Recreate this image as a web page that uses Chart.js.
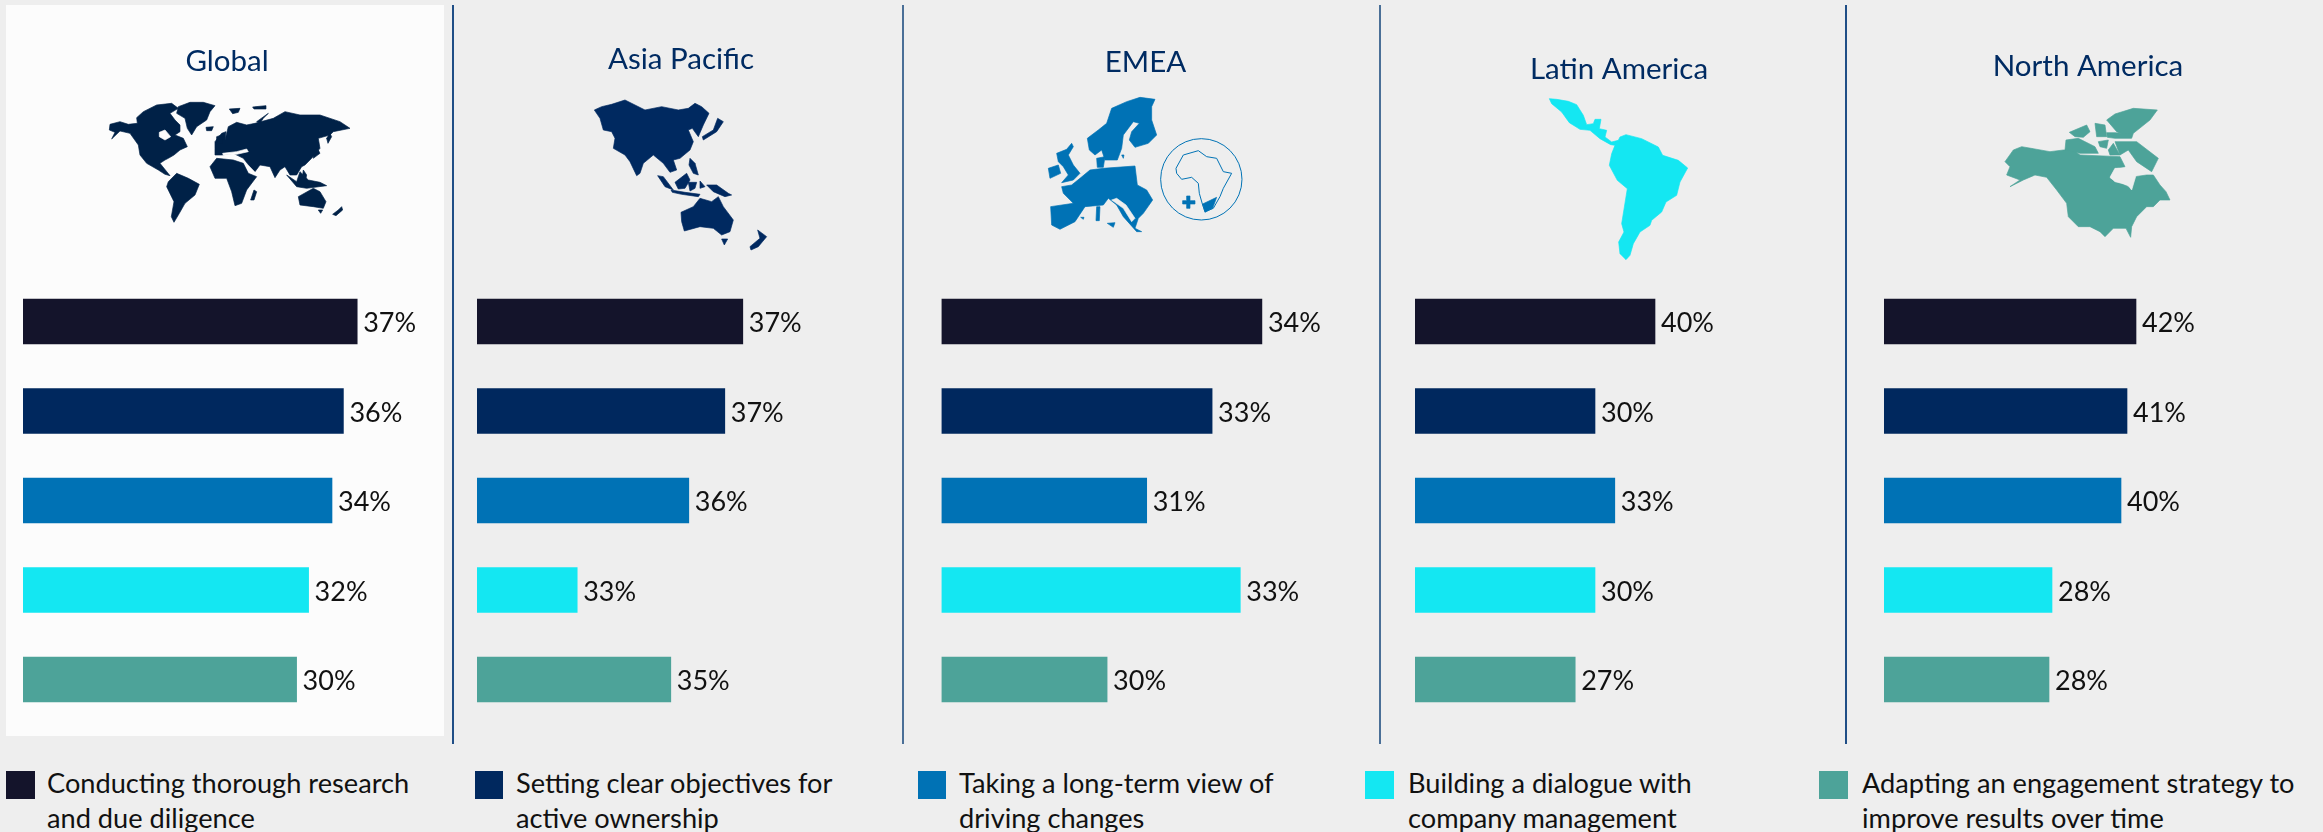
<!DOCTYPE html>
<html>
<head>
<meta charset="utf-8">
<script src="https://cdn.jsdelivr.net/npm/chart.js@4"></script>
<style>
html,body{margin:0;padding:0;background:#EEEEEE;width:2323px;height:832px;overflow:hidden;font-family:Lato,sans-serif}
#globalBg{position:absolute;left:6px;top:5px;width:438px;height:731px;background:#FCFCFC}
.divider{position:absolute;top:5px;height:739px;width:2px}
canvas{position:absolute;top:0}
svg{position:absolute;left:0;top:0}
.swatch{position:absolute;top:771px;height:28px}
.legendText{position:absolute;top:765px;font-size:27.2px;line-height:35px;color:#111;white-space:nowrap}
</style>
</head>
<body>
<div id="globalBg"></div>
<svg width="2323" height="832" viewBox="0 0 2323 832" id="maps">
  <!-- Global -->
  <g transform="translate(100,95) scale(0.3333)" fill="#002147" stroke="#002147" stroke-width="2" stroke-linejoin="round">
    <polygon points="30,88 60,80 85,88 112,85 110,68 130,50 170,30 215,25 235,40 210,55 225,75 240,90 240,110 225,120 250,130 262,155 240,165 222,180 205,190 195,195 180,205 210,242 195,238 175,225 140,205 120,180 115,150 90,115 60,108 35,132 45,112 28,105"/>
    <polygon points="235,35 270,22 310,22 345,32 330,50 320,75 290,95 275,120 262,100 255,70 230,55"/>
    <polygon points="388,42 420,40 415,52 398,56"/>
    <polygon points="458,36 498,32 498,42 462,42"/>
    <polygon points="470,80 505,55 490,70 480,85"/>
    <polygon points="318,97 340,95 335,107 320,107"/>
    <polygon points="205,260 230,235 265,250 298,268 285,300 255,325 238,355 222,382 214,365 222,320 200,275"/>
    <polygon points="330,215 350,190 400,195 430,205 445,235 470,245 440,285 425,325 405,332 395,290 380,250 345,250"/>
    <polygon points="452,315 462,285 470,290 462,315"/>
    <polygon points="345,140 365,115 378,110 375,135 385,95 410,82 440,90 465,85 520,70 555,50 600,60 660,60 720,80 750,100 700,110 690,120 655,130 660,160 635,190 615,210 605,215 590,240 570,240 555,215 540,225 525,248 510,215 480,210 465,230 445,210 430,190 400,175 365,180 345,180 345,160"/>
    <polygon points="350,125 365,120 368,145 350,148"/>
    <polygon points="680,130 690,115 695,125 684,145"/>
    <polygon points="640,180 655,165 660,175 640,190"/>
    <polygon points="610,225 620,240 618,250 608,240"/>
    <polygon points="560,240 590,275 620,280 680,272 660,262 625,255 600,230 590,260"/>
    <polygon points="595,305 640,280 660,290 678,320 670,340 640,335 600,330"/>
    <polygon points="655,345 668,345 662,355"/>
    <polygon points="725,335 728,345 708,362 698,358 715,345"/>
    <polygon points="178,112 195,105 212,125 195,135 178,125" fill="#FCFCFC" stroke="#FCFCFC"/>
    <polygon points="368,175 410,170 440,162 445,170 410,178 370,180" fill="#FCFCFC" stroke="#FCFCFC"/>
    <polyline points="430,195 465,232" fill="none" stroke="#FCFCFC"/>
  </g>
  <!-- Asia Pacific -->
  <g transform="translate(585,95) scale(0.3333)" fill="#002960" stroke="#002960" stroke-width="2" stroke-linejoin="round">
    <polygon points="28,45 50,35 80,28 120,15 150,30 180,45 230,35 280,45 310,40 330,25 350,35 372,55 355,90 340,125 322,100 310,105 325,140 315,165 285,190 265,195 275,225 255,232 235,205 205,180 175,205 165,235 155,242 135,200 120,180 85,160 90,130 80,110 55,105 45,70"/>
    <polygon points="398,70 415,80 395,110 355,135 352,125 385,105"/>
    <polygon points="315,190 330,205 340,240 325,235 312,210"/>
    <polygon points="218,242 235,245 265,285 240,275"/>
    <polygon points="258,285 300,292 345,298 340,305 290,298 262,292"/>
    <polygon points="270,262 305,235 315,255 300,280 280,282"/>
    <polygon points="310,262 335,262 330,280 315,288"/>
    <polygon points="345,258 360,275 345,280"/>
    <polygon points="365,270 395,270 430,295 440,300 420,305 385,290"/>
    <polygon points="288,352 325,335 345,310 380,320 400,305 415,335 445,375 435,410 410,420 385,400 345,395 298,408 290,380"/>
    <polygon points="410,432 428,432 418,450"/>
    <polygon points="518,405 545,425 520,455 498,465 495,455 525,430"/>
  </g>
  <!-- EMEA -->
  <g transform="translate(1040,90) scale(0.3333)">
    <g fill="#0072B5" stroke="#0072B5" stroke-width="2" stroke-linejoin="round">
      <polygon points="215,55 260,35 300,22 345,28 335,50 335,90 350,135 325,160 285,172 268,150 275,125 298,100 280,95 250,135 245,175 232,210 195,210 185,180 165,195 148,180 142,145 175,120 200,100"/>
      <polygon points="170,205 195,200 190,232 172,232"/>
      <polygon points="245,195 252,195 250,205"/>
      <polygon points="50,190 80,178 95,160 100,170 85,195 100,225 120,250 100,270 65,278 85,255 70,230 55,215"/>
      <polygon points="25,235 55,225 62,250 30,265"/>
      <polygon points="150,240 190,235 285,228 292,285 320,300 338,330 310,370 295,385 285,415 305,425 290,425 250,380 230,345 205,325 190,345 135,350 105,395 60,418 35,405 32,350 100,340 70,310 65,290 95,285 120,265"/>
      <polygon points="215,330 250,355 275,395 285,385 258,345 230,325" fill="#EEEEEE" stroke="#EEEEEE"/>
      <polygon points="202,400 225,398 220,412"/>
      <polygon points="170,350 180,350 178,392 168,392"/>
      <polygon points="122,382 132,382 130,388"/>
      <polygon points="488,342 530,322 518,355 495,367"/>
      <polygon points="440,318 450,318 450,332 465,332 465,342 450,342 450,355 440,355 440,342 428,342 428,332 440,332"/>
    </g>
    <circle cx="484" cy="268" r="122" fill="none" stroke="#0072B5" stroke-width="3"/>
    <polygon points="408,235 430,195 475,182 500,200 530,205 550,245 575,250 550,295 540,320 520,355 495,365 488,345 478,310 475,280 455,262 425,268 410,250" fill="none" stroke="#0072B5" stroke-width="3" stroke-linejoin="round"/>
  </g>
  <!-- Latin America -->
  <g transform="translate(1540,92) scale(0.3333)" fill="#14E7F2" stroke="#14E7F2" stroke-width="2" stroke-linejoin="round">
    <polygon points="28,20 50,22 85,28 110,38 130,70 140,98 160,95 165,82 183,82 178,110 200,115 195,135 215,150 235,145 240,135 258,128 305,140 355,165 368,190 415,205 443,228 420,270 410,310 378,330 365,360 335,385 330,400 300,420 280,455 270,490 258,503 240,485 236,450 252,420 245,395 262,290 232,265 208,220 215,185 225,160 212,158 180,140 150,115 120,112 88,92 65,60 35,35"/>
  </g>
  <!-- North America -->
  <g transform="translate(2000,100) scale(0.3333)" fill="#4DA399" stroke="#4DA399" stroke-width="2" stroke-linejoin="round">
    <polygon points="15,185 40,150 65,140 150,155 190,150 220,150 240,165 360,170 375,200 345,205 330,235 385,260 395,270 405,230 440,225 460,225 480,255 498,275 510,300 480,300 460,320 440,320 410,350 395,380 392,412 378,385 340,385 315,410 300,395 270,380 235,380 205,350 200,310 170,270 140,232 105,225 70,240 30,260 60,240 20,225 30,200"/>
    <polygon points="345,42 400,25 472,30 450,60 400,100 395,115 350,95 320,60"/>
    <polygon points="198,120 235,115 285,140 295,160 240,160 195,150"/>
    <polygon points="208,97 260,75 270,95 250,112 225,110"/>
    <polygon points="285,70 315,75 320,110 290,110"/>
    <polygon points="345,125 410,125 475,175 455,215 410,185 385,150 360,165"/>
    <polygon points="295,125 325,120 320,145 300,140"/>
    <polygon points="325,150 340,130 360,165 330,165"/>
    <polygon points="320,98 345,98 395,102 392,115 345,115 322,112"/>
    <polygon points="330,232 345,205 370,205 410,220 395,270 385,255 345,245" fill="#EEEEEE" stroke="#EEEEEE"/>
  </g>
</svg>
<div class="divider" style="left:452px;background:#1F4E86"></div>
<div class="divider" style="left:902px;background:#4A6F97"></div>
<div class="divider" style="left:1379px;background:#4A6F97"></div>
<div class="divider" style="left:1845px;background:#1F4E86"></div>
<script>
// Five approaches shown as bars
const categories = [
  "Conducting thorough research and due diligence",
  "Setting clear objectives for active ownership",
  "Taking a long-term view of driving changes",
  "Building a dialogue with company management",
  "Adapting an engagement strategy to improve results over time"
];
const legendLines = [
  ["Conducting thorough research", "and due diligence"],
  ["Setting clear objectives for", "active ownership"],
  ["Taking a long-term view of", "driving changes"],
  ["Building a dialogue with", "company management"],
  ["Adapting an engagement strategy to", "improve results over time"]
];
const barColors = ["#14142B", "#00285E", "#0072B5", "#14E7F2", "#4DA399"];

// Printed labels, as shown beside the bars
const globalLabels        = [37, 36, 34, 32, 30];
const asiaPacificLabels   = [37, 37, 36, 33, 35];
const emeaLabels          = [34, 33, 31, 33, 30];
const latinAmericaLabels  = [40, 30, 33, 30, 27];
const northAmericaLabels  = [42, 41, 40, 28, 28];

// Bar lengths as drawn in the picture (they do not follow the printed labels
// in every panel), read on the scale of the Latin America panel
const globalBars        = [55.7, 53.4, 51.5, 47.6, 45.6];
const asiaPacificBars   = [44.3, 41.3, 35.3, 16.7, 32.3];
const emeaBars          = [53.4, 45.1, 34.2, 49.8, 27.6];
const latinAmericaBars  = [40.0, 30.0, 33.3, 30.0, 26.7];
const northAmericaBars  = [42.0, 40.5, 39.5, 28.0, 27.5];

const panelTitles = ["Global", "Asia Pacific", "EMEA", "Latin America", "North America"];
const panelBars   = [globalBars, asiaPacificBars, emeaBars, latinAmericaBars, northAmericaBars];
const panelLabels = [globalLabels, asiaPacificLabels, emeaLabels, latinAmericaLabels, northAmericaLabels];

// Layout only
const canvasLeft  = [0, 454, 904, 1380, 1851];
const canvasWidth = [458, 452, 482, 478, 472];
const plotLeft    = [23, 477, 941.5, 1415, 1884];
const baselines   = [72, 70.5, 73, 80.5, 77.5];
const swatchX     = [6, 475, 918, 1365, 1819];
const swatchW     = [29, 28, 28, 29, 29];
const textX       = [47, 516, 959, 1408, 1862];

const TITLE_SIZE = 29.5, PLOT_W = 408, AXIS_MAX = 68, PLOT_TOP = 276.75, PLOT_H = 447.5, CANVAS_H = 735;

const valueLabels = {
  id: 'valueLabels',
  afterDatasetsDraw(chart) {
    const { ctx } = chart;
    const meta = chart.getDatasetMeta(0);
    const labels = chart.options.plugins.valueLabels.labels;
    ctx.save();
    ctx.font = '27px Lato';
    ctx.fillStyle = '#111111';
    ctx.textBaseline = 'middle';
    ctx.textAlign = 'left';
    meta.data.forEach((bar, i) => ctx.fillText(labels[i] + '%', bar.x + 6, bar.y + 2));
    ctx.restore();
  }
};

panelTitles.forEach((title, p) => {
  const c = document.createElement('canvas');
  c.width = canvasWidth[p];
  c.height = CANVAS_H;
  c.style.left = canvasLeft[p] + 'px';
  c.style.width = canvasWidth[p] + 'px';
  c.style.height = CANVAS_H + 'px';
  document.body.appendChild(c);
  const lh = TITLE_SIZE * 1.2;
  // title is centred in its line box; cap-height centre sits about 0.36em above the baseline
  const titleTop = baselines[p] - 0.36 * TITLE_SIZE - lh / 2;
  new Chart(c, {
    type: 'bar',
    data: {
      labels: categories,
      datasets: [{
        data: panelBars[p],
        backgroundColor: barColors,
        barThickness: 45,
        borderWidth: 0
      }]
    },
    options: {
      indexAxis: 'y',
      responsive: false,
      animation: false,
      layout: { padding: {
        left: plotLeft[p] - canvasLeft[p],
        right: canvasWidth[p] - (plotLeft[p] - canvasLeft[p]) - PLOT_W,
        top: 0,
        bottom: CANVAS_H - PLOT_TOP - PLOT_H
      } },
      scales: {
        x: { display: false, min: 0, max: AXIS_MAX, grid: { display: false } },
        y: { display: false, grid: { display: false } }
      },
      plugins: {
        legend: { display: false },
        tooltip: { enabled: false },
        title: {
          display: true,
          text: title,
          color: '#002B62',
          font: { family: 'Lato', size: TITLE_SIZE, weight: 'normal', lineHeight: 1.2 },
          padding: { top: titleTop, bottom: PLOT_TOP - titleTop - lh }
        },
        valueLabels: { labels: panelLabels[p] }
      }
    },
    plugins: [valueLabels]
  });
});

legendLines.forEach((lines, i) => {
  const s = document.createElement('div');
  s.className = 'swatch';
  s.style.left = swatchX[i] + 'px';
  s.style.width = swatchW[i] + 'px';
  s.style.background = barColors[i];
  document.body.appendChild(s);
  const t = document.createElement('div');
  t.className = 'legendText';
  t.style.left = textX[i] + 'px';
  t.innerHTML = lines.join('<br>');
  document.body.appendChild(t);
});
</script>
</body>
</html>
